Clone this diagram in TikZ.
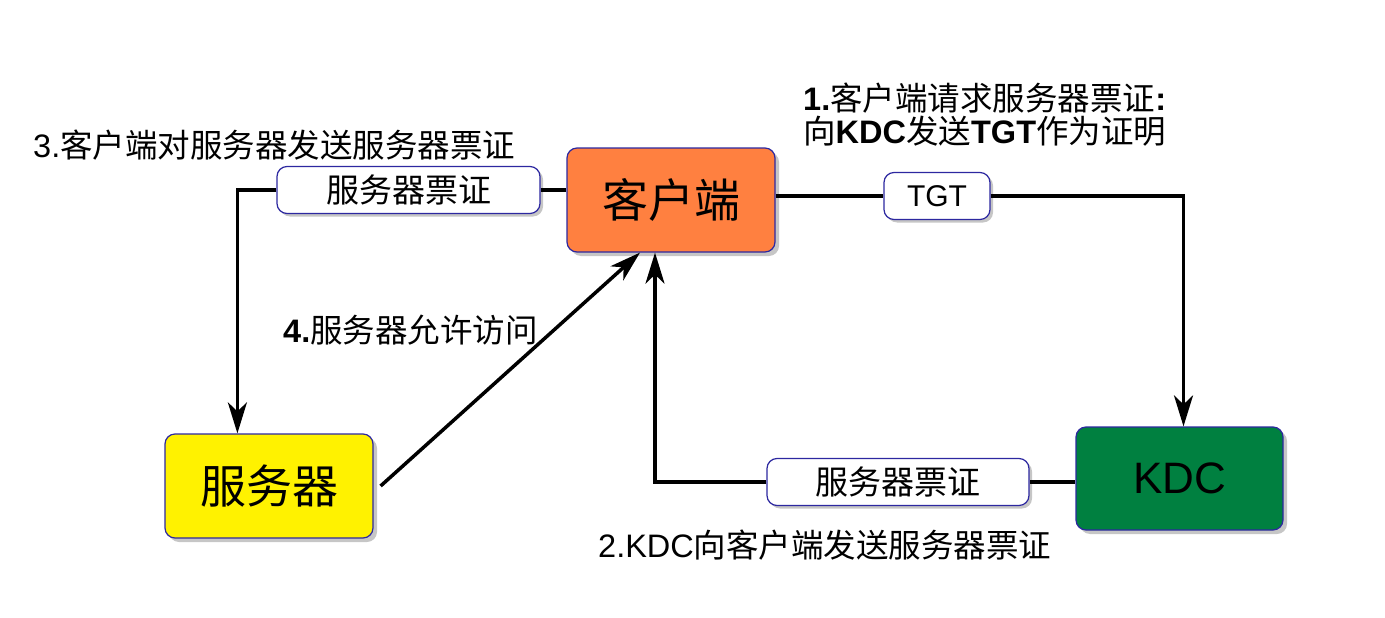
\documentclass[tikz,border=0pt]{standalone}
\usepackage{fontspec}
\setmainfont{Noto Sans CJK SC}
\newfontfamily\latin{Liberation Sans}
\usetikzlibrary{arrows.meta}
\usetikzlibrary{shadows}
\definecolor{clientorange}{RGB}{255,128,64}
\definecolor{kdcgreen}{RGB}{0,128,64}
\definecolor{boxblue}{RGB}{45,40,160}
\newcommand{\fsz}[1]{\fontsize{#1}{33}\selectfont}
\newcommand{\lt}[1]{{\latin #1}}
\newcommand{\ltb}[1]{{\latin\bfseries #1}}
\tikzset{
  entity/.style={draw=boxblue, line width=1.2pt, rounded corners=10pt,
    minimum width=208pt, minimum height=104pt, font=\fsz{46},
    drop shadow={opacity=0.45, shadow xshift=4pt, shadow yshift=-4pt}},
  ticket/.style={draw=boxblue, fill=white, line width=1.2pt, rounded corners=10pt,
    minimum height=47pt, font=\fsz{33},
    drop shadow={opacity=0.45, shadow xshift=3pt, shadow yshift=-3pt}},
  link/.style={line width=3.5pt},
  linkarrow/.style={link, -{Stealth[length=31pt,width=19pt,inset=9pt]}},
  caption/.style={anchor=west, inner sep=0pt, font=\fsz{32.5}}
}
\begin{document}
\begin{tikzpicture}[x=1pt, y=-1pt]
        \useasboundingbox (0,0) rectangle (1385,618);
        % boxes
        \node[entity, fill=clientorange] (client) at (671,200) {客户端};
        \node[entity, fill=yellow] (server) at (269,486) {服务器};
        \node[entity, fill=kdcgreen, minimum width=207pt, minimum height=103pt, font=\fsz{44}] (kdc) at (1179.5,478.5) {\lt{KDC}};
        % tickets
        \node[ticket, minimum width=263pt] (ticketsv) at (408.5,190) {服务器票证};
        \node[ticket, minimum width=106pt, font=\fsz{30}] (tgt) at (937,196) {\lt{TGT}};
        \node[ticket, minimum width=262pt] (ticketkdc) at (898,482) {服务器票证};
        % step 1
        \draw[link] (client.east |- tgt.west) -- (tgt.west);
        \draw[linkarrow] (tgt.east) -| ([xshift=4pt]kdc.north);
        % step 2
        \draw[link] (kdc.west |- ticketkdc.east) -- (ticketkdc.east);
        \draw[linkarrow] (ticketkdc.west) -| ([xshift=-16pt]client.south);
        % step 3
        \draw[link] (client.west |- ticketsv.east) -- (ticketsv.east);
        \draw[linkarrow] (ticketsv.west) -| ([xshift=73pt]server.north west);
        % step 4
        \draw[linkarrow] ([xshift=7pt]server.east) -- ([xshift=-31pt]client.south);
        % captions
        \node[caption, align=left] (cap1) at (803,115) {\ltb{1.}客户端请求服务器票证\ltb{:}\\向\ltb{KDC}发送\ltb{TGT}作为证明};
        \node[caption] (cap2) at (598,545) {\lt{2.KDC}向客户端发送服务器票证};
        \node[caption] (cap3) at (33,145) {\lt{3.}客户端对服务器发送服务器票证};
        \node[caption] (cap4) at (283,330) {\ltb{4.}服务器允许访问};
\end{tikzpicture}
\end{document}
